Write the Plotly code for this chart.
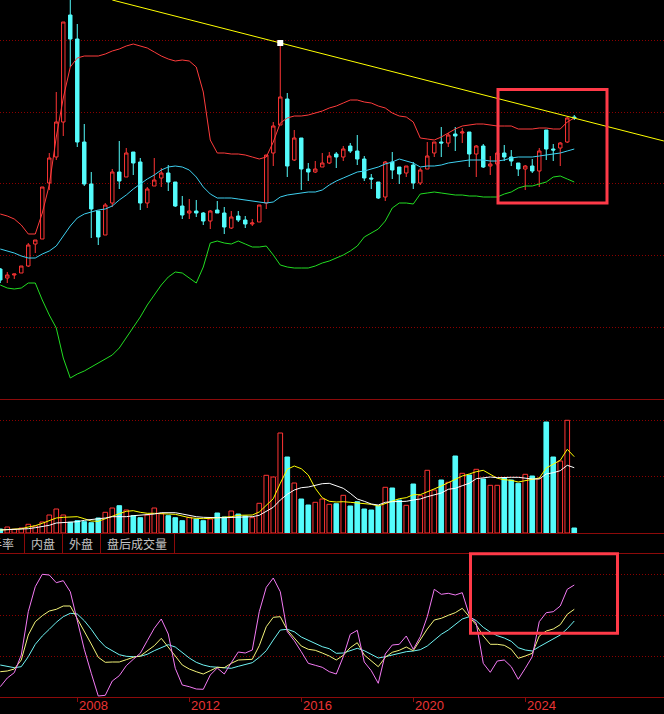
import plotly.graph_objects as go

# ---------------- data ----------------
quarters = [f"{2005 + (q // 4)}Q{q % 4 + 1}" for q in range(1, 84)]
year_ticks = ["2008", "2012", "2016", "2020", "2024"]

open_ = [13.1, 12.2, 12.5, 12.7, 13.4, 15.6, 16.1, 21.7, 24.3, 27.8,
         38.5, 36.1, 25.8, 21.6, 18.9, 16.5, 19.7, 22.8, 22.3, 24.8,
         23.8, 19.7, 21.4, 22.2, 22.7, 21.8, 19.4, 18.7, 18.9, 18.7,
         17.9, 19.0, 18.7, 17.2, 18.4, 18.0, 17.6, 17.8, 19.7, 24.7,
         27.5, 30.1, 24.0, 26.2, 23.1, 22.8, 23.3, 23.7, 24.6, 24.3,
         25.4, 24.9, 24.1, 22.2, 21.8, 20.3, 23.8, 23.3, 22.7, 23.5,
         21.7, 23.1, 24.7, 25.8, 25.7, 26.6, 26.7, 26.8, 24.6, 25.4,
         23.4, 23.6, 24.7, 24.3, 23.7, 23.1, 23.4, 22.9, 27.0, 25.1,
         25.2, 25.8, 28.3]
high = [13.2, 12.8, 12.6, 13.4, 15.7, 16.0, 21.3, 24.7, 30.8, 37.8,
        40.0, 37.6, 27.6, 22.8, 18.9, 19.7, 23.1, 25.9, 25.2, 24.8,
        24.2, 21.3, 24.2, 23.2, 23.5, 21.8, 20.4, 20.1, 20.0, 18.8,
        19.0, 19.9, 19.3, 18.9, 18.9, 18.4, 18.1, 19.5, 24.5, 27.8,
        35.7, 30.7, 27.0, 26.2, 23.7, 23.9, 24.7, 24.8, 24.8, 25.4,
        25.7, 26.5, 24.4, 22.6, 21.8, 23.9, 24.8, 23.3, 23.4, 23.8,
        23.2, 25.8, 25.8, 27.3, 26.7, 27.3, 27.2, 26.8, 25.5, 25.6,
        24.4, 24.8, 25.5, 25.0, 23.7, 23.5, 24.1, 25.2, 27.0, 25.6,
        25.8, 28.3, 28.5]
low = [11.7, 11.7, 12.1, 12.7, 13.3, 14.7, 16.1, 21.0, 24.0, 26.4,
       33.3, 25.3, 21.4, 16.2, 15.5, 16.5, 19.3, 21.1, 22.3, 22.5,
       19.0, 19.2, 21.4, 21.3, 20.9, 19.3, 18.1, 18.1, 18.3, 17.5,
       17.1, 18.7, 16.6, 17.1, 17.8, 17.2, 17.4, 17.8, 19.1, 23.4,
       27.5, 22.3, 23.9, 21.0, 21.9, 22.7, 23.3, 23.6, 23.2, 23.9,
       24.7, 23.5, 21.9, 21.1, 20.1, 19.9, 22.1, 21.6, 22.3, 21.1,
       21.5, 23.1, 24.3, 24.3, 25.3, 24.9, 25.7, 23.3, 22.3, 23.2,
       22.5, 23.4, 23.9, 23.4, 22.4, 21.0, 22.7, 21.3, 24.0, 23.9,
       23.4, 25.7, 28.0]
close = [12.0, 12.5, 12.6, 13.4, 15.5, 16.0, 21.3, 24.2, 27.8, 37.8,
         36.1, 25.8, 21.6, 19.1, 16.3, 19.5, 22.8, 21.9, 24.7, 23.7,
         19.7, 21.1, 22.0, 22.7, 21.8, 19.4, 18.5, 18.9, 18.7, 17.9,
         18.9, 18.7, 17.3, 18.3, 18.0, 17.6, 17.7, 19.5, 24.5, 27.4,
         30.3, 23.4, 26.2, 23.1, 22.8, 23.1, 23.7, 24.4, 24.3, 25.1,
         24.9, 24.1, 22.2, 22.1, 20.2, 23.8, 23.0, 22.6, 23.4, 21.7,
         23.0, 24.4, 25.8, 25.7, 26.5, 26.4, 26.8, 24.6, 25.4, 23.3,
         23.6, 24.7, 24.3, 23.9, 23.1, 23.4, 22.9, 24.9, 25.1, 25.0,
         25.7, 28.2, 28.2]

boll_upper = [18.6, 18.4, 18.1, 17.5, 16.6, 16.6, 18.7, 21.5, 26.3, 30.2,
              33.3, 34.2, 34.4, 34.4, 34.4, 34.6, 34.9, 35.1, 35.4, 35.6,
              35.4, 35.2, 34.8, 34.4, 34.1, 33.9, 34.0, 33.9, 33.3, 30.8,
              26.0, 24.7, 24.7, 24.6, 24.6, 24.5, 24.3, 24.1, 24.3, 25.8,
              27.7, 28.2, 28.4, 28.4, 28.5, 28.7, 28.9, 29.2, 29.4, 29.7,
              30.0, 30.0, 29.8, 29.7, 29.4, 29.2, 28.7, 28.4, 28.3, 27.8,
              26.2, 26.1, 26.0, 26.3, 26.7, 27.1, 27.4, 27.5, 27.6, 27.6,
              27.5, 27.4, 27.4, 27.4, 27.1, 27.1, 27.1, 27.2, 27.2, 27.1,
              27.1, 27.8, 28.2]
boll_mid = [15.1, 14.9, 14.7, 14.4, 14.2, 14.2, 14.6, 14.9, 15.4, 16.4,
            17.4, 18.2, 18.6, 18.8, 19.0, 19.1, 19.4, 20.0, 20.5, 21.1,
            21.6, 22.1, 22.5, 23.0, 23.3, 23.4, 23.3, 23.0, 22.3, 21.3,
            20.6, 20.2, 20.2, 20.2, 20.1, 20.0, 19.9, 19.8, 19.7, 19.8,
            20.3, 20.5, 20.6, 20.7, 20.8, 20.8, 21.0, 21.5, 21.9, 22.2,
            22.5, 22.8, 22.9, 23.1, 23.3, 23.6, 23.8, 24.1, 23.9, 23.7,
            23.3, 23.4, 23.4, 23.5, 23.7, 23.8, 23.9, 24.0, 24.0, 24.0,
            23.9, 23.9, 24.0, 24.2, 24.3, 24.3, 24.3, 24.4, 24.5, 24.6,
            24.7, 24.9, 25.1]
boll_lower = [11.5, 11.2, 11.1, 11.2, 11.7, 11.7, 10.0, 8.5, 7.2, 4.2,
              2.2, 2.6, 2.9, 3.3, 3.7, 4.1, 4.5, 5.2, 6.2, 7.2,
              8.3, 9.5, 10.5, 11.5, 12.3, 12.8, 12.7, 12.2, 11.7, 13.3,
              15.7, 15.9, 15.7, 15.6, 15.9, 15.6, 15.3, 15.3, 15.4, 14.5,
              13.5, 13.3, 13.2, 13.2, 13.2, 13.4, 13.7, 13.9, 14.2, 14.5,
              14.9, 15.4, 16.3, 16.7, 17.1, 17.9, 19.2, 19.7, 19.7, 19.6,
              20.6, 20.7, 20.8, 20.7, 20.6, 20.5, 20.5, 20.4, 20.4, 20.3,
              20.3, 20.3, 20.6, 20.8, 21.2, 21.4, 21.4, 21.6, 21.8, 22.3,
              22.4, 22.1, 21.8]

volume = [4, 6, 3.7, 5, 8.7, 7, 11, 18, 24, 18,
          10.7, 12.3, 11.3, 10.3, 15, 20.7, 25, 27.3, 23, 17.3,
          15.3, 18, 25, 19.3, 17.3, 15.3, 12.3, 15.7, 14, 12.3,
          14, 20, 16, 22, 19, 17, 15.3, 29.7, 57.7, 56,
          100, 76, 50, 34, 28, 30.7, 34, 28.7, 29.3, 37.7,
          27, 31.3, 24, 23, 27, 45.7, 45, 33, 27.7, 49,
          37.3, 62.7, 43, 53, 50.7, 77, 59.7, 58, 63.7, 54,
          47.7, 47.7, 55.3, 53, 49.7, 58.7, 57, 54.7, 111, 76,
          72, 112.7, 5]
vol_ma_yellow = [3, 3.3, 3.7, 4.3, 6, 7.3, 9.7, 12.7, 15, 15.7,
                 15.7, 16.3, 14.3, 12, 11.7, 14, 16.7, 19.3, 21.7, 22.3,
                 20.7, 19.7, 19.7, 19, 19, 18.7, 17, 15.3, 14.7, 14.3,
                 14.7, 15, 15.7, 16.3, 17.7, 18, 18, 21, 27.7, 34.3,
                 49.7, 63.7, 67, 64.3, 58, 44.7, 35.3, 31.7, 31, 31.3,
                 30.7, 30, 29.3, 28.7, 27, 29.7, 32, 34.3, 35.3, 38.3,
                 38.3, 41, 43.7, 47, 50.3, 54, 57, 59, 61.3, 62.7,
                 59, 54.7, 53.3, 52.7, 51, 52.3, 54, 55, 65, 68.7,
                 72.7, 83.7, 76.3]
vol_ma_white = [3, 3.3, 3.3, 3.7, 4.3, 5.3, 6.3, 7.7, 10, 10.3,
                10.7, 11.3, 12.7, 13.3, 13.7, 15, 16.3, 16.3, 16.3, 17.3,
                17.7, 18, 19, 20.3, 20.3, 20.3, 19, 17.3, 16.3, 15.7,
                15.3, 15.3, 15.3, 15.7, 15.7, 16, 16.3, 17.7, 21.3, 25.7,
                33, 38.7, 43, 45.3, 46, 47.7, 49.3, 49.7, 47.3, 44.7,
                39.7, 34, 31.7, 29, 28, 30.7, 31.3, 31.3, 31.7, 33,
                34, 36.3, 38, 40, 43.7, 44.7, 47.3, 49.7, 54.3, 55.3,
                56, 55.3, 55.7, 55.7, 55.7, 54.7, 54, 54, 59, 60.3,
                62.3, 67.7, 65.3]

osc_fast = [10.3, 19, 24.3, 42, 85.3, 110.3, 122.7, 122, 114.3, 116.3,
            105.3, 75.3, 47.7, 23.7, 1, 1.7, 16, 21.3, 31.3, 37.7,
            43.7, 56.3, 68.7, 78, 63, 28.7, 12, 10.3, 8, 7.7,
            22, 29, 23, 34.3, 45, 44, 47, 85.3, 109.7, 119,
            105.3, 65.3, 56.3, 45.3, 33.7, 31.7, 29.7, 25.3, 23, 40.3,
            62.7, 66.7, 35, 26.3, 13.7, 43, 52, 52.7, 61, 47.7,
            60.3, 80.3, 107.7, 102.7, 103.7, 102, 104.3, 82, 73.7, 33.7,
            24.7, 36, 37, 30.3, 17.7, 28.7, 40.3, 75.3, 84.3, 85.3,
            91, 107.7, 112]
osc_mid = [25.3, 26, 28, 37, 62, 75.3, 81.3, 86, 87.7, 91,
           91, 78.7, 65.3, 53, 39.7, 34.7, 35, 35, 37.3, 39.7,
           41, 46.3, 51.3, 58.7, 50.3, 41, 32, 28, 25.3, 23,
           26.3, 29.7, 29.3, 33.7, 37, 37.3, 37.7, 51.3, 70.3, 79.7,
           80.3, 67, 58.7, 51, 47.7, 46.7, 44, 41, 37, 41.7,
           49.3, 54.3, 42, 36, 30.3, 39.7, 44.7, 46.7, 50, 46.3,
           57, 68, 77, 78.7, 81.7, 84.3, 88.7, 80.3, 72, 61,
           52.7, 52.7, 51.7, 47.7, 38.7, 41, 43.7, 61, 66, 68,
           72.3, 82.7, 87.7]
osc_slow = [32, 30.3, 29.3, 30.3, 40.3, 52.7, 61, 67.7, 74.7, 80.3,
            83.7, 83, 76.3, 67.7, 57.7, 50.3, 46, 42.3, 40.7, 40.3,
            40.7, 42.7, 46.3, 49.7, 52.3, 50, 44.3, 39, 34.7, 32,
            30.3, 29.7, 29.3, 28.7, 30.7, 32.3, 34.3, 39.7, 46.3, 57,
            67, 67.7, 65.3, 60, 56.7, 53.3, 50.3, 48.3, 43.7, 44,
            46.3, 48.7, 46.3, 42.7, 39, 40.3, 42, 43.7, 45.3, 46,
            47.3, 51, 57, 62.7, 67, 72.7, 78, 80.3, 76.3, 69.7,
            65, 61.3, 59, 55.7, 49.3, 47, 46, 50.3, 54.3, 58.7,
            62, 68.3, 76]

trend_x = [16, 94.8]
trend_y = [40.0, 25.9]
marked_bar = 40

tab_labels = ["换手率", "内盘", "外盘", "盘后成交量"]

# ---------------- figure ----------------
W, H = 664, 714
idx = list(range(len(quarters)))
UP, DOWN = "#ff3434", "#54fcfc"
GRID = "#8b0000"
BORDER = "#8c0a0a"

up = [c >= o for o, c in zip(open_, close)]

fig = go.Figure()

fig.add_trace(go.Scatter(x=idx, y=boll_upper, mode="lines",
                         line=dict(color="#ff3c3c", width=1), yaxis="y"))
fig.add_trace(go.Scatter(x=idx, y=boll_mid, mode="lines",
                         line=dict(color="#3ed0f0", width=1), yaxis="y"))
fig.add_trace(go.Scatter(x=idx, y=boll_lower, mode="lines",
                         line=dict(color="#22dd22", width=1), yaxis="y"))

fig.add_trace(go.Candlestick(
    x=idx, open=open_, high=high, low=low, close=close,
    increasing=dict(line=dict(color=UP, width=1), fillcolor="#000000"),
    decreasing=dict(line=dict(color=DOWN, width=1), fillcolor=DOWN),
    whiskerwidth=0, yaxis="y"))

fig.add_trace(go.Scatter(x=trend_x, y=trend_y, mode="lines",
                         line=dict(color="#ffff00", width=1), yaxis="y"))
fig.add_trace(go.Scatter(x=[marked_bar], y=[high[marked_bar]], mode="markers",
                         marker=dict(symbol="square", size=6, color="#ffffff"),
                         yaxis="y"))

fig.add_trace(go.Bar(
    x=idx, y=volume, width=0.66,
    marker=dict(color=["#000000" if u else DOWN for u in up],
                line=dict(color=[UP if u else DOWN for u in up], width=1)),
    yaxis="y2"))
fig.add_trace(go.Scatter(x=idx, y=vol_ma_yellow, mode="lines",
                         line=dict(color="#ffff00", width=1), yaxis="y2"))
fig.add_trace(go.Scatter(x=idx, y=vol_ma_white, mode="lines",
                         line=dict(color="#ffffff", width=1), yaxis="y2"))

fig.add_trace(go.Scatter(x=idx, y=osc_slow, mode="lines",
                         line=dict(color="#70f4f4", width=1), yaxis="y3"))
fig.add_trace(go.Scatter(x=idx, y=osc_mid, mode="lines",
                         line=dict(color="#f4f47a", width=1), yaxis="y3"))
fig.add_trace(go.Scatter(x=idx, y=osc_fast, mode="lines",
                         line=dict(color="#f47af4", width=1), yaxis="y3"))


def py(p):
    return 1 - p / H


tick_idx = [quarters.index(y + "Q1") for y in year_ticks]

grid_common = dict(showticklabels=False, showgrid=True, gridcolor=GRID,
                   griddash="1px,2px", gridwidth=1, zeroline=False,
                   showline=False, ticks="", fixedrange=True)

fig.update_layout(
    width=W, height=H, margin=dict(l=0, r=0, t=0, b=0),
    paper_bgcolor="#000000", plot_bgcolor="#000000",
    showlegend=False, hovermode=False, boxgap=0.3,
    xaxis=dict(domain=[0, 1], range=[-0.04, 94.82], anchor="y3",
               showgrid=False, zeroline=False, showline=False,
               tickvals=tick_idx, ticks="outside", ticklen=4,
               tickcolor=BORDER, showticklabels=False,
               rangeslider=dict(visible=False), fixedrange=True),
    yaxis=dict(domain=[py(399), 1], range=[0.1, 40.0],
               tickvals=[7.3, 14.5, 21.7, 28.8, 36.0], **grid_common),
    yaxis2=dict(domain=[py(533), py(400)], range=[0, 133],
                tickvals=[57, 113], **grid_common),
    yaxis3=dict(domain=[py(697), py(553)], range=[0, 144],
                tickvals=[41, 82, 123], **grid_common),
)

shapes = []
for yy in [399.5, 533.5, 553.5, 697.5]:
    shapes.append(dict(type="line", xref="paper", yref="paper",
                       x0=0, x1=1, y0=py(yy), y1=py(yy),
                       line=dict(color=BORDER, width=1)))
for xx in [24.5, 62.5, 100.5, 174.5]:
    shapes.append(dict(type="line", xref="paper", yref="paper",
                       x0=xx / W, x1=xx / W, y0=py(533.5), y1=py(553.5),
                       line=dict(color=BORDER, width=1)))
# highlight boxes
for (x0, x1, y0, y1) in [(498, 607, 89.5, 203), (470.5, 617.5, 553.7, 633.3)]:
    shapes.append(dict(type="rect", xref="paper", yref="paper",
                       x0=x0 / W, x1=x1 / W, y0=py(y1), y1=py(y0),
                       line=dict(color="#ff3a48", width=3),
                       fillcolor="rgba(0,0,0,0)"))
fig.update_layout(shapes=shapes)

ann = []
tab_pos = [(16, "right"), (43, "center"), (81, "center"), (137, "center")]
for lab, (xp, anc) in zip(tab_labels, tab_pos):
    ann.append(dict(text=lab, xref="paper", yref="paper", x=xp / W, y=py(543.5),
                    xanchor=anc, yanchor="middle", showarrow=False,
                    font=dict(family="Noto Sans CJK SC", size=12, color="#c4c4c4")))
for yr, i in zip(year_ticks, tick_idx):
    ann.append(dict(text=yr, xref="x", yref="paper", x=i, y=py(705.5),
                    xanchor="left", yanchor="middle", xshift=0, showarrow=False,
                    font=dict(family="Liberation Sans", size=13, color="#e83434")))
fig.update_layout(annotations=ann)

fig.write_html("out.html",
               config={"displayModeBar": False},
               post_script="document.body.style.margin='0';"
                           "document.body.style.overflow='hidden';"
                           "document.body.style.background='#000';")
